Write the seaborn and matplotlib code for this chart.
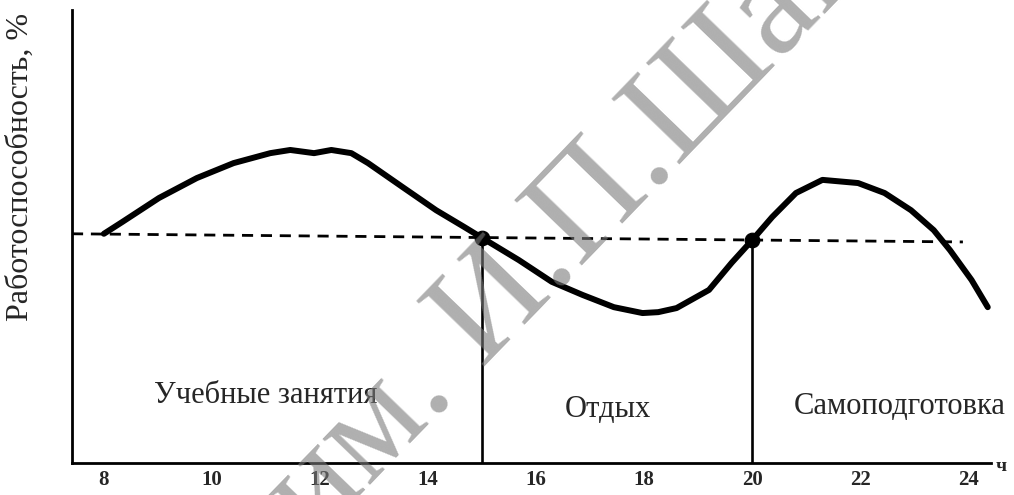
import numpy as np
import pandas as pd
import seaborn as sns
from matplotlib import pyplot as plt

# working capacity curve over the day (hours, relative %)
hours = [8.0, 8.34, 9.02, 9.72, 10.4, 11.08, 11.45, 11.89, 12.21, 12.58, 12.89, 13.53,
         14.15, 14.67, 15.0, 15.68, 16.29, 16.86, 17.44, 17.97, 18.26, 18.6, 19.2,
         19.62, 20.0, 20.37, 20.81, 21.3, 21.96, 22.45, 22.94, 23.36, 23.66, 24.06, 24.36]
perf = [50.6, 53.2, 58.5, 62.9, 66.2, 68.4, 69.1, 68.4, 69.1, 68.4, 66.2, 60.9,
        55.8, 52.1, 49.7, 44.8, 40.0, 37.1, 34.4, 33.1, 33.3, 34.2, 38.2,
        44.2, 49.2, 54.3, 59.6, 62.5, 61.8, 59.6, 55.8, 51.4, 47.0, 40.4, 34.4]

# average level (dashed)
level_x = [7.41, 23.9]
level_y = [50.6, 48.8]

# switch points between activities
switch_h = [15, 20]
switch_v = [49.7, 49.2]

periods = ['Учебные занятия', 'Отдых', 'Самоподготовка']
period_x = [11.0, 17.32, 22.73]
period_y = [15.0, 11.7, 12.4]

major_ticks = list(range(8, 25, 2))
minor_ticks = list(range(9, 24, 2))

df = pd.DataFrame({'hour': hours, 'perf': perf})

sns.set_style('white')
plt.rcParams['font.family'] = ['Liberation Serif', 'DejaVu Serif']

fig = plt.figure(figsize=(10.14, 4.95), dpi=100)
ax = fig.add_axes([72 / 1014, 32 / 495, (991 - 72) / 1014, 453 / 495])

sns.lineplot(data=df, x='hour', y='perf', sort=False, color='black', lw=4.3,
             solid_capstyle='round', solid_joinstyle='round', ax=ax, clip_on=False)
sns.lineplot(x=level_x, y=level_y, color='black', lw=2, ax=ax,
             dashes=False, linestyle=(0, (4, 2.8)))
ax.vlines(switch_h, 0, switch_v, color='black', lw=1.9)
sns.scatterplot(x=switch_h, y=switch_v, color='black', s=110, edgecolor='black',
                ax=ax, zorder=5)

for name, px, py in zip(periods, period_x, period_y):
    ax.text(px, py, name, ha='center', va='center', fontsize=22)

ax.set_xlim(7.41, 24.42)
ax.set_ylim(0, 100)
ax.set_xticks(major_ticks)
ax.set_xticks(minor_ticks, minor=True)
ax.set_xticklabels([str(t) for t in major_ticks], fontweight='bold', fontsize=15)
ax.set_yticks([])
ax.tick_params(axis='x', which='both', direction='in', length=6, width=1.5,
               color='black', pad=5)
ax.set_xlabel('')
ax.set_ylabel('')
sns.despine(ax=ax)
for s in ['left', 'bottom']:
    ax.spines[s].set_color('black')
    ax.spines[s].set_linewidth(2)
ax.text(24.5, -0.7, 'ч', fontsize=14, fontweight='bold', ha='left', va='center',
        clip_on=False)

fig.text(20 / 1014, 1 - 167 / 495, 'Работоспособность, %', fontsize=23,
         rotation=90, ha='center', va='center')

# library stamp watermark
fig.text(315 / 1014, 1 - 543 / 495, 'им. И.П.Шамова', fontsize=104, color='#7a7a7a',
         alpha=0.6, rotation=46, rotation_mode='anchor', ha='left', va='baseline',
         zorder=10)

fig.savefig('out.png', dpi=100)
